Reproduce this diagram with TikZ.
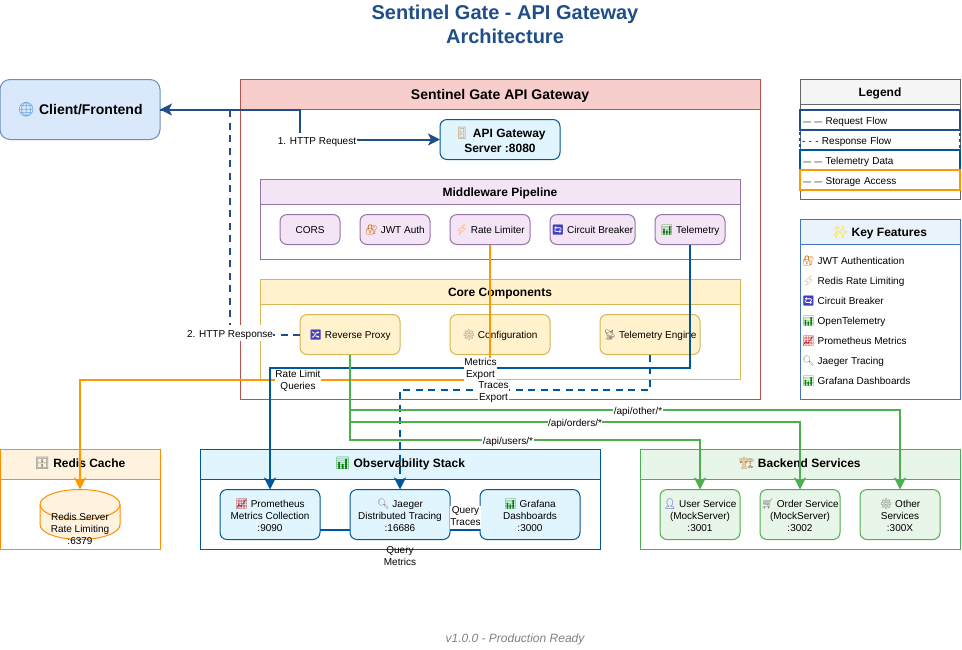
\documentclass[tikz,border=0pt]{standalone}
\usepackage{fontspec}
\setmainfont{Liberation Sans}
\newfontfamily\emojifont{Noto Emoji}
\usepackage{xcolor}
\usetikzlibrary{arrows.meta, positioning}

\definecolor{reqblue}{HTML}{1F4E88}
\definecolor{teleblue}{HTML}{01579B}
\definecolor{storeorange}{HTML}{FF9800}
\definecolor{svcgreen}{HTML}{4CAF50}
\definecolor{gwfill}{HTML}{F8CECC}\definecolor{gwline}{HTML}{B85450}
\definecolor{mwfill}{HTML}{F3E5F5}\definecolor{mwline}{HTML}{9673A6}
\definecolor{corefill}{HTML}{FFF2CC}\definecolor{coreline}{HTML}{D6B656}
\definecolor{obsfill}{HTML}{E1F5FE}
\definecolor{svcfill}{HTML}{E8F5E9}
\definecolor{redisfill}{HTML}{FFF3E0}\definecolor{redisline}{HTML}{FF8F00}
\definecolor{clientfill}{HTML}{DAE8FC}\definecolor{clientline}{HTML}{6C8EBF}
\definecolor{featfill}{HTML}{EAF2FB}\definecolor{featline}{HTML}{4472C4}
\newcommand{\emo}[2]{{\emojifont\textcolor{#1}{#2}}}
\newcommand{\dashmark}{{\fontsize{8}{12}\selectfont— —}}

\begin{document}
\begin{tikzpicture}[
    x=1pt, y=-1pt,
    >={Stealth[length=12pt, width=12pt, inset=3pt]},
    titletext/.style={font=\fontsize{20}{24}\selectfont\bfseries, text=reqblue, align=center},
    footertext/.style={font=\fontsize{12}{14}\selectfont\itshape, text=gray},
    frame/.style 2 args={draw, anchor=north west, inner sep=0pt, outer sep=0pt, line width=1pt, minimum width=#1pt, minimum height=#2pt},
    headbig/.style={font=\fontsize{14}{17}\selectfont\bfseries, text height=13pt, text depth=3pt},
    headsmall/.style={font=\fontsize{12}{14}\selectfont\bfseries, text height=12pt, text depth=2.4pt},
    headhigh/.style={headsmall, text height=9pt},
    small/.style={font=\fontsize{10}{12}\selectfont, align=center, execute at begin node={\rule[-3pt]{0pt}{14.5pt}}},
    oneline/.style={text height=10.2pt, text depth=2pt},
    threeline/.style={text height=33pt, text depth=0pt},
    card/.style 2 args={frame={#1}{#2}, rounded corners=7pt, small, oneline},
    purplecard/.style={draw=mwline, fill=mwfill},
    yellowcard/.style={draw=coreline, fill=corefill},
    bluecard/.style={draw=teleblue, fill=obsfill, threeline},
    greencard/.style={draw=svcgreen, fill=svcfill, threeline},
    legendrow/.style={frame={160}{20}, line width=2pt, small, align=left, text width=156pt, text height=11.2pt, text depth=2pt},
    featurerow/.style={small, anchor=west, inner sep=0pt, text height=11.2pt, text depth=2pt},
    edge label/.style={small, fill=white, inner sep=0.5pt},
    flow/.style={->, line width=2pt},
    dashflow/.style={flow, dash pattern=on 7pt off 5.5pt},
    query link/.style={line width=2pt, teleblue},
    cylinder line/.style={draw=redisline, fill=redisfill, line width=1pt}
]
    \useasboundingbox (0,0.5) rectangle (962,649.5);

    % --- TITLE ---
    \node[titletext] (title) at (505,24.5) {Sentinel Gate - API Gateway\\Architecture};
    \node[footertext] (footer) at (515,640) {v1.0.0 - Production Ready};

    % --- CLIENT ---
    \node[frame={160}{60}, rounded corners=10pt, draw=clientline, fill=clientfill, headbig] (client) at (0,80)
        {\emo{cyan!60!blue!70}{🌐} Client/Frontend};

    % --- GATEWAY ---
    \node[frame={520}{320}, draw=gwline] (gateway) at (240,80) {};
    \node[frame={520}{30}, draw=gwline, fill=gwfill, headbig] (gatewayhead) at (240,80) {Sentinel Gate API Gateway};
    \node[frame={120}{40}, rounded corners=7pt, draw=teleblue, fill=obsfill, font=\fontsize{12}{15}\selectfont\bfseries, align=center] (api) at (440,120)
        {\emo{brown}{🚪} API Gateway\\Server :8080};

    % Middleware
    \node[frame={480}{80}, draw=mwline] (middleware) at (260,180) {};
    \node[frame={480}{25}, draw=mwline, fill=mwfill, headsmall] (middlewarehead) at (260,180) {Middleware Pipeline};
    \node[card={60}{30}, purplecard] (cors) at (280,215) {CORS};
    \node[card={70}{30}, purplecard] (jwt) at (360,215) {\emo{orange!80!black}{🔐} JWT Auth};
    \node[card={80}{30}, purplecard] (rate) at (450,215) {\emo{orange!80}{⚡} Rate Limiter};
    \node[card={85}{30}, purplecard] (breaker) at (550,215) {\emo{blue!50!gray}{🔄} Circuit Breaker};
    \node[card={70}{30}, purplecard] (telemetry) at (655,215) {\emo{green!50!black}{📊} Telemetry};

    % Core
    \node[frame={480}{100}, draw=coreline] (core) at (260,280) {};
    \node[frame={480}{25}, draw=coreline, fill=corefill, headsmall] (corehead) at (260,280) {Core Components};
    \node[card={100}{40}, yellowcard] (proxy) at (300,315) {\emo{blue!50!gray}{🔀} Reverse Proxy};
    \node[card={100}{40}, yellowcard] (config) at (450,315) {\emo{gray}{⚙} Configuration};
    \node[card={100}{40}, yellowcard] (engine) at (600,315) {\emo{gray!80!black}{📡} Telemetry Engine};

    % --- LEGEND ---
    \node[frame={160}{120}, draw=black!60] (legend) at (800,80) {};
    \node[frame={160}{25}, draw=black!60, fill=black!4, headsmall] (legendhead) at (800,80) {Legend};
    \node[legendrow, draw=reqblue] (legreq) at (800,110) {\hspace*{1pt}\dashmark{} Request Flow};
    \node[legendrow, draw=reqblue, dashed] (legresp) at (800,130) {- - - Response Flow};
    \node[legendrow, draw=teleblue] (legtele) at (800,150) {\hspace*{1pt}\dashmark{} Telemetry Data};
    \node[legendrow, draw=storeorange] (legstore) at (800,170) {\hspace*{1pt}\dashmark{} Storage Access};

    % --- KEY FEATURES ---
    \node[frame={160}{180}, draw=featline] (features) at (800,220) {};
    \node[frame={160}{25}, draw=featline, fill=featfill, headsmall] (featureshead) at (800,220) {\emo{yellow!80!orange}{✨} Key Features};
    \node[featurerow] (featjwt) at (802,260) {\emo{orange!80!black}{🔐} JWT Authentication};
    \node[featurerow] (featrate) at (802,280) {\emo{orange!80}{⚡} Redis Rate Limiting};
    \node[featurerow] (featbreaker) at (802,300) {\emo{blue!50!gray}{🔄} Circuit Breaker};
    \node[featurerow] (feattele) at (802,320) {\emo{green!50!black}{📊} OpenTelemetry};
    \node[featurerow] (featprom) at (802,340) {\emo{red!70!black}{📈} Prometheus Metrics};
    \node[featurerow] (featjaeger) at (802,360) {\emo{gray}{🔍} Jaeger Tracing};
    \node[featurerow] (featgrafana) at (802,380) {\emo{green!50!black}{📊} Grafana Dashboards};

    % --- REDIS ---
    \node[frame={160}{100}, draw=redisline] (redis) at (0,450) {};
    \node[frame={160}{30}, draw=redisline, fill=redisfill, headhigh] (redishead) at (0,450) {\emo{gray!80!black}{🗄} Redis Cache};
    \node[frame={80}{50}, draw=none] (redisdb) at (40,490) {};
    % Cylinder body, then the lower half of its top cap
    \draw[cylinder line] ([yshift=-15pt]redisdb.north west)
        arc[start angle=180, end angle=0, x radius=40pt, y radius=15pt]
        -- ([yshift=15pt]redisdb.south east)
        arc[start angle=0, end angle=-180, x radius=40pt, y radius=15pt] -- cycle;
    \draw[cylinder line, fill=none] ([yshift=-15pt]redisdb.north west)
        arc[start angle=180, end angle=360, x radius=40pt, y radius=15pt];
    \node[small, inner sep=0pt] (redistext) at (80,530.5) {Redis Server\\Rate Limiting\\:6379};

    % --- OBSERVABILITY ---
    \node[frame={400}{100}, draw=teleblue] (observe) at (200,450) {};
    \node[frame={400}{30}, draw=teleblue, fill=obsfill, headhigh] (observehead) at (200,450) {\emo{green!50!black}{📊} Observability Stack};
    \node[card={100}{50}, bluecard] (prometheus) at (220,490) {\emo{red!70!black}{📈} Prometheus\\Metrics Collection\\:9090};
    \node[card={100}{50}, bluecard] (jaeger) at (350,490) {\emo{gray}{🔍} Jaeger\\Distributed Tracing\\:16686};
    \node[card={100}{50}, bluecard] (grafana) at (480,490) {\emo{green!50!black}{📊} Grafana\\Dashboards\\:3000};

    % --- BACKEND ---
    \node[frame={320}{100}, draw=svcgreen] (backend) at (640,450) {};
    \node[frame={320}{30}, draw=svcgreen, fill=svcfill, headhigh] (backendhead) at (640,450) {\emo{orange!50!gray}{🏗} Backend Services};
    \node[card={80}{50}, greencard] (users) at (660,490) {\emo{blue!60!gray}{👤} User Service\\(MockServer)\\:3001};
    \node[card={80}{50}, greencard] (orders) at (760,490) {\emo{gray}{🛒} Order Service\\(MockServer)\\:3002};
    \node[card={80}{50}, greencard] (others) at (860,490) {\emo{gray!80!black}{⚙} Other\\Services\\:300X};

    % --- EDGES ---
    % Client -> Gateway
    \coordinate (reqbend) at (300,110);
    \draw[flow, reqblue] (client.east) -- (reqbend) |- (api.west);
    \node[edge label] (lblreq) at (317,141) {1. HTTP Request};

    % Proxy -> Client (dashed)
    \coordinate (respbend) at (230,335);
    \coordinate (respup) at (230,110);
    \draw[dashflow, reqblue] (proxy.west) -- (respbend) -- (respup) -- (client.east);
    \node[edge label] (lblresp) at (230,333.5) {2. HTTP Response};

    % Rate Limiter -> Redis
    \coordinate (storebend) at (490,380);
    \draw[flow, storeorange] (rate.south) -- (storebend) -| (redisdb.north);

    % Telemetry -> Prometheus
    \coordinate (metricsbend) at (690,368);
    \draw[flow, teleblue] (telemetry.south) -- (metricsbend) -| (prometheus.north);

    % Engine -> Jaeger (dashed)
    \coordinate (tracesbend) at (650,390);
    \draw[dashflow, teleblue] (engine.south) -- (tracesbend) -| (jaeger.north);

    % Proxy -> Services
    \coordinate (otherbend) at (350,410);
    \coordinate (orderbend) at (350,422);
    \coordinate (userbend) at (350,440);
    \draw[flow, svcgreen] (proxy.south) -- (otherbend) -| (others.north);
    \draw[flow, svcgreen] (proxy.south) -- (orderbend) -| (orders.north);
    \draw[flow, svcgreen] (proxy.south) -- (userbend) -| (users.north);

    % Grafana queries
    \draw[query link] ([yshift=-15pt]prometheus.east) -- ([yshift=-15pt]jaeger.west);
    \draw[query link] ([yshift=-15pt]jaeger.east) -- ([yshift=-15pt]grafana.west);

    % --- EDGE LABELS ---
    \node[edge label] (lblstore) at (298,382) {Rate Limit\\Queries};
    \node[edge label] (lblmetrics) at (480.5,370) {Metrics\\Export};
    \node[edge label] (lbltraces) at (493.5,393) {Traces\\Export};
    \node[edge label] (lblother) at (638,411) {/api/other/*};
    \node[edge label] (lblorders) at (575,423) {/api/orders/*};
    \node[edge label] (lblusers) at (508,441) {/api/users/*};
    \node[edge label] (lblqtraces) at (465.5,517.5) {Query\\Traces};
    \node[small, inner sep=0pt] (lblqmetrics) at (400,558) {Query\\Metrics};

\end{tikzpicture}
\end{document}
